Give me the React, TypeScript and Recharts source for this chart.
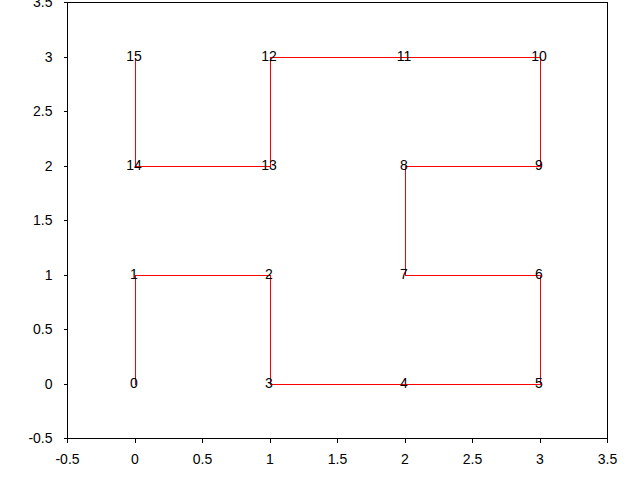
import React from 'react';
import { ScatterChart, Scatter, XAxis, YAxis } from 'recharts';

// Hilbert curve order 2: points in visiting order
const xs = [0, 0, 1, 1, 2, 3, 3, 2, 2, 3, 3, 2, 1, 1, 0, 0];
const ys = [0, 1, 1, 0, 0, 0, 1, 1, 2, 2, 3, 3, 3, 2, 2, 3];
const labels = xs.map((_, i) => String(i));
const ticks = [-0.5, 0, 0.5, 1, 1.5, 2, 2.5, 3, 3.5];

const data = xs.map((x, i) => ({ x, y: ys[i], label: labels[i] }));

const PointLabel = (props: any) => {
  const { cx, cy, payload } = props;
  if (cx == null || cy == null) return null;
  return (
    <text x={cx - 1} y={cy + 4} textAnchor="middle" fontSize={14} fill="#000">
      {payload.label}
    </text>
  );
};

export default function App() {
  const axisStroke = '#000';
  return (
    <div style={{ position: 'absolute', left: 0, top: 0, width: 640, height: 480, background: '#fff' }}>
      <ScatterChart
        width={640}
        height={480}
        margin={{ top: 0, right: 0, bottom: 0, left: 0 }}
        style={{ fontFamily: '"Liberation Sans", Arial, sans-serif', shapeRendering: 'crispEdges' }}
      >
        <XAxis
          type="number"
          dataKey="x"
          domain={[-0.5, 3.5]}
          ticks={ticks}
          height={41.5}
          tickSize={4}
          tickMargin={12}
          stroke={axisStroke}
          tick={{ fill: '#000', fontSize: 14 }}
          interval={0}
          allowDataOverflow
        />
        <XAxis
          xAxisId="top"
          orientation="top"
          type="number"
          domain={[-0.5, 3.5]}
          ticks={ticks}
          height={2.5}
          tickSize={3}
          stroke={axisStroke}
          tick={false}
          interval={0}
          allowDataOverflow
        />
        <YAxis
          type="number"
          dataKey="y"
          domain={[-0.5, 3.5]}
          ticks={ticks}
          width={67.5}
          tickSize={4}
          tickMargin={11}
          stroke={axisStroke}
          tick={{ fill: '#000', fontSize: 14 }}
          interval={0}
          allowDataOverflow
        />
        <YAxis
          yAxisId="right"
          orientation="right"
          type="number"
          domain={[-0.5, 3.5]}
          ticks={ticks}
          width={32.5}
          tickSize={3}
          stroke={axisStroke}
          tick={false}
          interval={0}
          allowDataOverflow
        />
        <Scatter
          data={data}
          line={{ stroke: '#ff0000', strokeWidth: 1, transform: 'translate(0.5,0.5)' }}
          lineType="joint"
          shape={PointLabel}
          isAnimationActive={false}
        />
      </ScatterChart>
    </div>
  );
}
